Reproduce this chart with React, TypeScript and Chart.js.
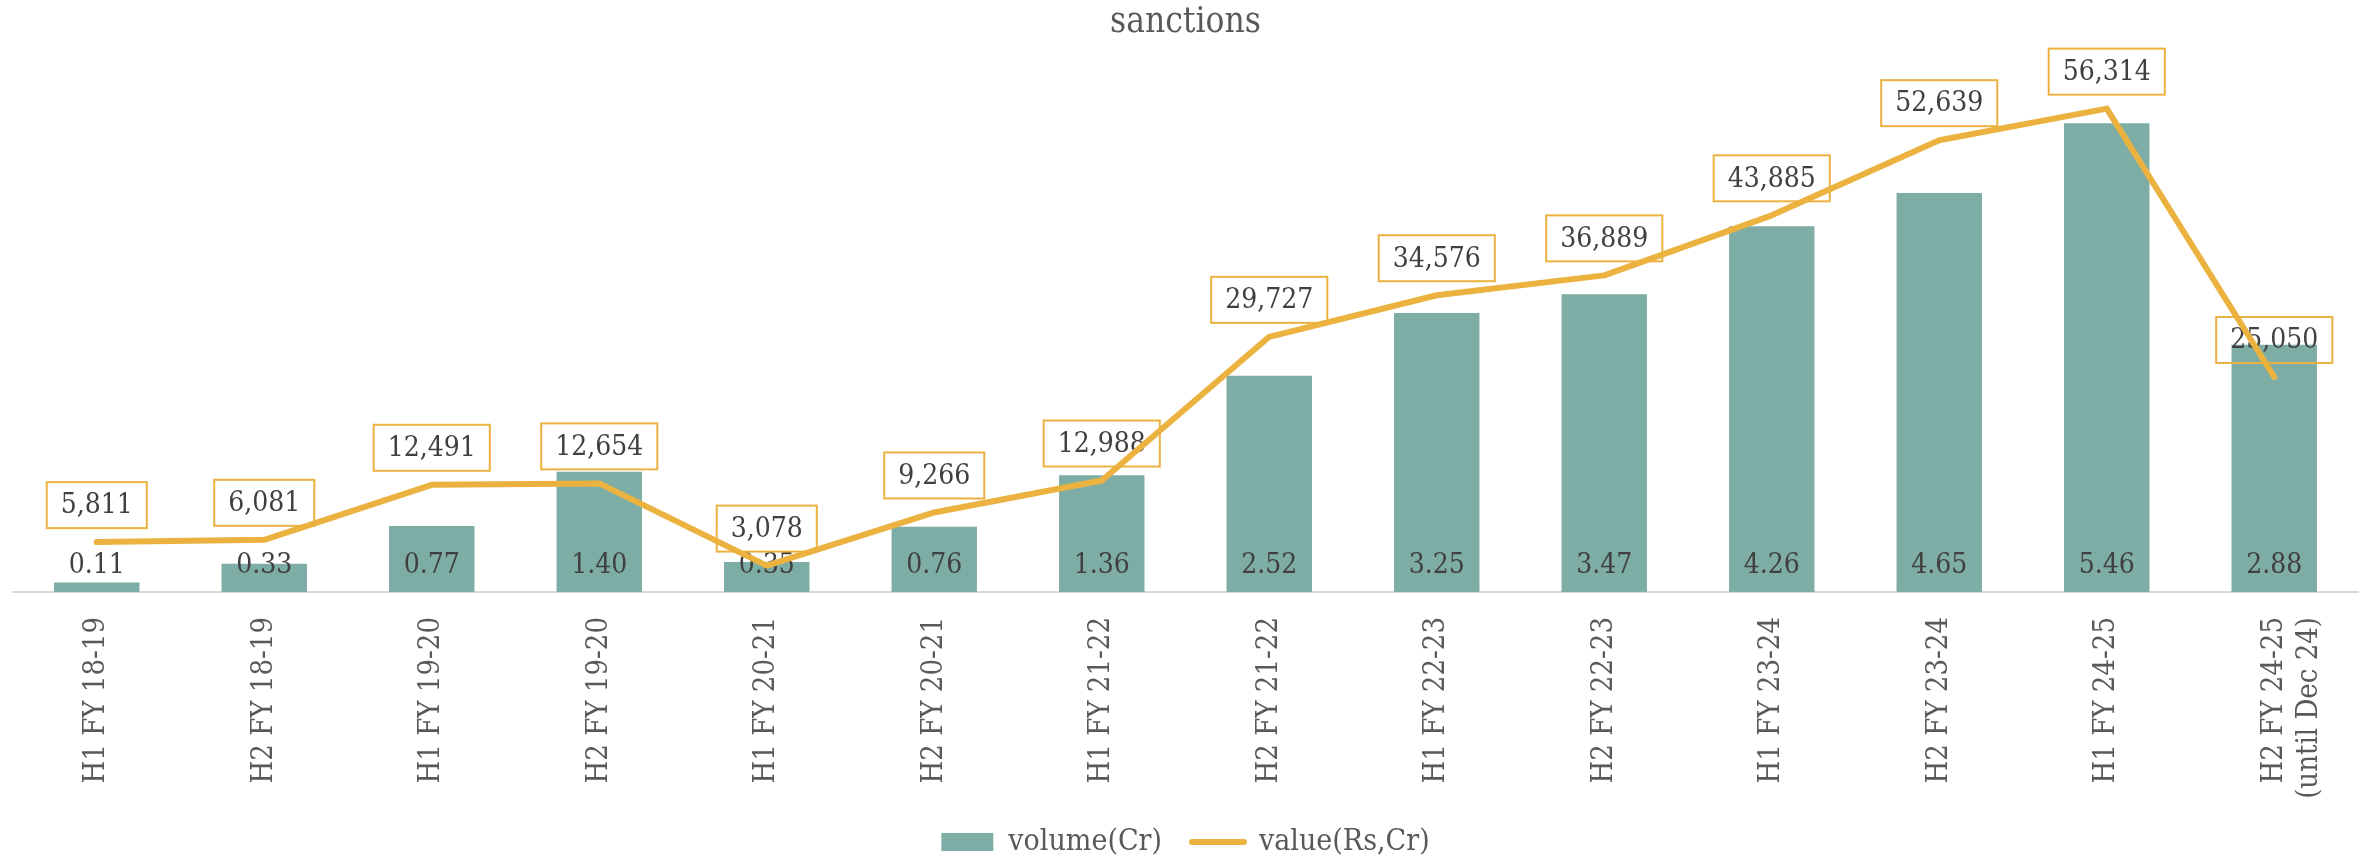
import React, { useEffect, useRef } from "react";
import { Chart, registerables } from "chart.js";

Chart.register(...registerables);

const categories: (string | string[])[] = [
  "H1 FY 18-19",
  "H2 FY 18-19",
  "H1 FY 19-20",
  "H2 FY 19-20",
  "H1 FY 20-21",
  "H2 FY 20-21",
  "H1 FY 21-22",
  "H2 FY 21-22",
  "H1 FY 22-23",
  "H2 FY 22-23",
  "H1 FY 23-24",
  "H2 FY 23-24",
  "H1 FY 24-25",
  ["H2 FY 24-25", "(until Dec 24)"],
];

const volumeCr = [0.11, 0.33, 0.77, 1.4, 0.35, 0.76, 1.36, 2.52, 3.25, 3.47, 4.26, 4.65, 5.46, 2.88];
const valueRsCr = [5811, 6081, 12491, 12654, 3078, 9266, 12988, 29727, 34576, 36889, 43885, 52639, 56314, 25050];

const BAR_COLOR = "#7EADA6";
const LINE_COLOR = "#EBB240";
const FONT = "'DejaVu Serif Condensed', 'DejaVu Serif', serif";

const labelPlugin = {
  id: "valueLabels",
  afterDatasetDraw(chart: any, args: any) {
    if (args.index !== 0) return;
    const ctx = chart.ctx;
    const barMeta = chart.getDatasetMeta(0);
    const lineMeta = chart.getDatasetMeta(1);
    const base = chart.scales.y.getPixelForValue(0);
    ctx.save();
    ctx.font = `28px ${FONT}`;
    ctx.fillStyle = "#404040";
    ctx.textAlign = "center";
    ctx.textBaseline = "alphabetic";
    barMeta.data.forEach((el: any, i: number) => {
      ctx.fillText(volumeCr[i].toFixed(2), el.x, base - 19);
    });
    lineMeta.data.forEach((el: any, i: number) => {
      const txt = valueRsCr[i].toLocaleString("en-US");
      const w = ctx.measureText(txt).width + 28;
      const h = 46;
      const bottom = el.y - 14;
      const top = bottom - h;
      ctx.strokeStyle = LINE_COLOR;
      ctx.lineWidth = 2;
      ctx.strokeRect(el.x - w / 2, top, w, h);
      ctx.textBaseline = "middle";
      ctx.fillText(txt, el.x, top + h / 2 + 1);
    });
    ctx.restore();
  },
};

export default function App() {
  const ref = useRef<HTMLCanvasElement>(null);
  useEffect(() => {
    if (!ref.current) return;
    Chart.defaults.font.family = FONT;
    const chart = new Chart(ref.current, {
      type: "bar",
      data: {
        labels: categories as any,
        datasets: [
          {
            type: "bar",
            label: "volume(Cr)",
            data: volumeCr,
            backgroundColor: BAR_COLOR,
            barPercentage: 0.51,
            categoryPercentage: 1.0,
            yAxisID: "y",
            order: 1,
          },
          {
            type: "line",
            label: "value(Rs,Cr)",
            data: valueRsCr,
            borderColor: LINE_COLOR,
            backgroundColor: LINE_COLOR,
            borderWidth: 6,
            borderCapStyle: "round",
            borderJoinStyle: "round",
            pointRadius: 0,
            tension: 0,
            yAxisID: "y1",
            order: 0,
          } as any,
        ],
      },
      options: {
        animation: false,
        responsive: true,
        maintainAspectRatio: false,
        layout: { padding: { left: 13, right: 13, top: 0, bottom: -7 } },
        scales: {
          x: {
            grid: { display: false, drawTicks: false },
            border: { display: true, color: "#D9D9D9", width: 2 },
            ticks: {
              color: "#595959",
              font: { size: 29, family: FONT },
              maxRotation: 90,
              minRotation: 90,
              padding: 25,
              autoSkip: false,
            },
            afterFit: (scale: any) => {
              scale.height = 205;
            },
          },
          y: { display: false, min: 0, max: 6 },
          y1: { display: false, min: 0, max: 60000 },
        },
        plugins: {
          title: {
            display: true,
            text: "sanctions",
            color: "#595959",
            font: { size: 35, weight: "normal", family: FONT, lineHeight: 1.2 },
            padding: { top: 2, bottom: 33 },
          },
          legend: {
            position: "bottom",
            labels: {
              usePointStyle: true,
              pointStyleWidth: 52,
              boxHeight: 18,
              padding: 30,
              color: "#595959",
              font: { size: 30, family: FONT },
              sort: (a: any, b: any) => a.datasetIndex - b.datasetIndex,
              generateLabels: (c: any) => {
                const items = (Chart.defaults.plugins.legend.labels as any).generateLabels(c);
                return items.map((it: any) =>
                  it.datasetIndex === 0
                    ? { ...it, pointStyle: "rect", lineWidth: 0, fillStyle: BAR_COLOR, strokeStyle: BAR_COLOR }
                    : { ...it, pointStyle: "line", lineWidth: 6, strokeStyle: LINE_COLOR, fillStyle: LINE_COLOR, lineCap: "round" }
                );
              },
            },
          },
          tooltip: { enabled: false },
        },
      },
      plugins: [labelPlugin],
    });
    return () => chart.destroy();
  }, []);

  return (
    <div style={{ position: "fixed", left: 0, top: 0, width: "2371px", height: "860px", background: "#fff" }}>
      <canvas ref={ref} />
    </div>
  );
}
